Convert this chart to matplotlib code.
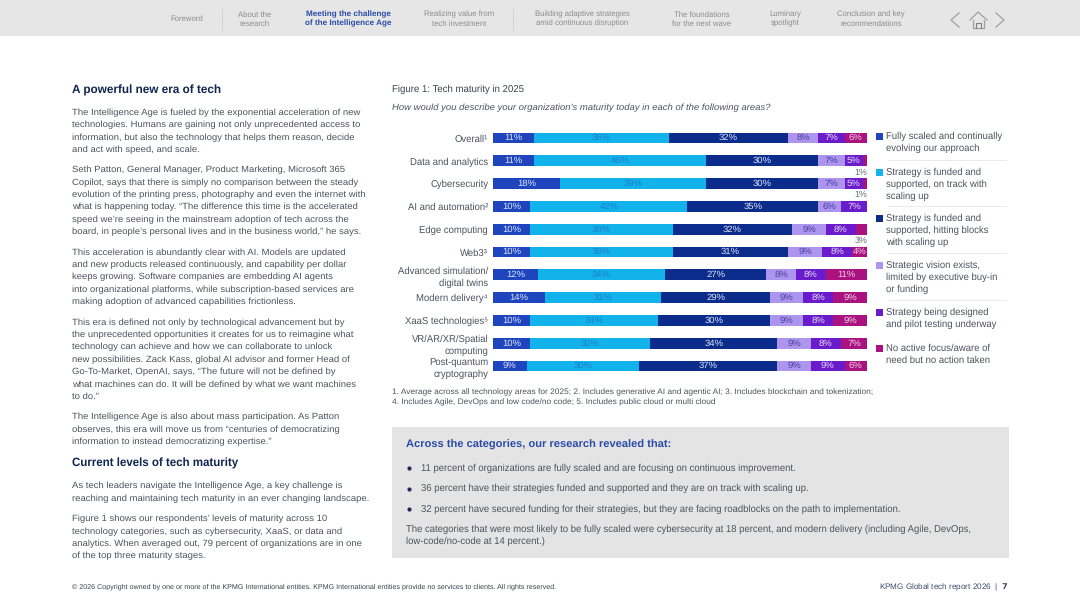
import matplotlib
matplotlib.use("Agg")
import matplotlib.pyplot as plt
from matplotlib.patches import Rectangle
import numpy as np

plt.rcParams['font.family'] = ['Liberation Sans', 'DejaVu Sans']
plt.rcParams['text.hinting'] = 'no_hinting'
plt.rcParams['text.hinting_factor'] = 8

categories = ["Overall¹", "Data and analytics", "Cybersecurity", "AI and automation²",
              "Edge computing", "Web3³", "Advanced simulation/\ndigital twins", "Modern delivery⁴",
              "XaaS technologies⁵", "VR/AR/XR/Spatial\ncomputing", "Post-quantum\ncryptography"]
fully_scaled = [11, 11, 18, 10, 10, 10, 12, 14, 10, 10, 9]
on_track = [36, 46, 39, 42, 38, 38, 34, 31, 34, 32, 30]
hitting_blocks = [32, 30, 30, 35, 32, 31, 27, 29, 30, 34, 37]
vision = [8, 7, 7, 6, 9, 9, 8, 9, 9, 9, 9]
pilot = [7, 5, 5, 7, 8, 8, 8, 8, 8, 8, 9]
no_focus = [6, 1, 1, 0, 3, 4, 11, 9, 9, 7, 6]
series_values = [fully_scaled, on_track, hitting_blocks, vision, pilot, no_focus]
series_names = ["Fully scaled and continually\nevolving our approach",
                "Strategy is funded and\nsupported, on track with\nscaling up",
                "Strategy is funded and\nsupported, hitting blocks\nwith scaling up",
                "Strategic vision exists,\nlimited by executive buy-in\nor funding",
                "Strategy being designed\nand pilot testing underway",
                "No active focus/aware of\nneed but no action taken"]
series_colors = ["#1F45BE", "#12B2EA", "#0C2C8C", "#AD94EC", "#6A1BCB", "#AA1280"]
label_colors = ["#DCE4FA", "#1E7FD0", "#DCE4FA", "#4A3FA8", "#E6DCF8", "#F0D0E6"]

para_left = [
    ["The Intelligence Age is fueled by the exponential acceleration of new",
     "technologies. Humans are gaining not only unprecedented access to",
     "information, but also the technology that helps them reason, decide",
     "and act with speed, and scale."],
    ["Seth Patton, General Manager, Product Marketing, Microsoft 365",
     "Copilot, says that there is simply no comparison between the steady",
     "evolution of the printing press, photography and even the internet with",
     "what is happening today. “The difference this time is the accelerated",
     "speed we’re seeing in the mainstream adoption of tech across the",
     "board, in people’s personal lives and in the business world,” he says."],
    ["This acceleration is abundantly clear with AI. Models are updated",
     "and new products released continuously, and capability per dollar",
     "keeps growing. Software companies are embedding AI agents",
     "into organizational platforms, while subscription-based services are",
     "making adoption of advanced capabilities frictionless."],
    ["This era is defined not only by technological advancement but by",
     "the unprecedented opportunities it creates for us to reimagine what",
     "technology can achieve and how we can collaborate to unlock",
     "new possibilities. Zack Kass, global AI advisor and former Head of",
     "Go-To-Market, OpenAI, says, “The future will not be defined by",
     "what machines can do. It will be defined by what we want machines",
     "to do.”"],
    ["The Intelligence Age is also about mass participation. As Patton",
     "observes, this era will move us from “centuries of democratizing",
     "information to instead democratizing expertise.”"],
    ["As tech leaders navigate the Intelligence Age, a key challenge is",
     "reaching and maintaining tech maturity in an ever changing landscape."],
    ["Figure 1 shows our respondents’ levels of maturity across 10",
     "technology categories, such as cybersecurity, XaaS, or data and",
     "analytics. When averaged out, 79 percent of organizations are in one",
     "of the top three maturity stages."],
]
para_tops = [112.7, 170, 252.5, 322.5, 417, 486, 519]

nav_items = ["Foreword", "About the\nresearch", "Meeting the challenge\nof the Intelligence Age",
             "Realizing value from\ntech investment", "Building adaptive strategies\namid continuous disruption",
             "The foundations\nfor the next wave", "Luminary\nspotlight", "Conclusion and key\nrecommendations"]
nav_x = [187, 255, 348, 459, 582, 702, 785, 871]

bullets = ["11 percent of organizations are fully scaled and are focusing on continuous improvement.",
           "36 percent have their strategies funded and supported and they are on track with scaling up.",
           "32 percent have secured funding for their strategies, but they are facing roadblocks on the path to implementation."]
closing = ["The categories that were most likely to be fully scaled were cybersecurity at 18 percent, and modern delivery (including Agile, DevOps,",
           "low-code/no-code at 14 percent.)"]
footnotes = ["1. Average across all technology areas for 2025; 2. Includes generative AI and agentic AI; 3. Includes blockchain and tokenization;",
             "4. Includes Agile, DevOps and low code/no code; 5. Includes public cloud or multi cloud"]

W, H = 1080, 608
fig = plt.figure(figsize=(W / 100, H / 100), dpi=100, facecolor="white")

page = fig.add_axes([0, 0, 1, 1])
page.set_xlim(0, W)
page.set_ylim(H, 0)
page.axis("off")

BODY = "#4C525E"
NAVY = "#10264F"

def t(x, y, s, **kw):
    kw.setdefault("va", "center")
    kw.setdefault("color", BODY)
    kw.setdefault("fontsize", 6.82)
    return page.text(x, y, s, **kw)

# navigation band
page.add_patch(Rectangle((0, 0), W, 36, fc="#E6E6E6", ec="none"))
for i, (x, s) in enumerate(zip(nav_x, nav_items)):
    if i == 2:
        t(x, 19, s, ha="center", color="#2B4BA8", fontsize=5.9, fontweight="bold", linespacing=1.25)
    else:
        t(x, 19, s, ha="center", color="#8C8C8C", fontsize=5.6, linespacing=1.25)
for x in (222, 513):
    page.plot([x, x], [9, 30], color="#D2D2D2", lw=0.7)
page.plot([959, 951, 959], [13, 20, 27], color="#A0A0A0", lw=0.9)
page.plot([996, 1004, 996], [13, 20, 27], color="#A0A0A0", lw=0.9)
page.plot([970, 978, 987], [20, 12, 20], color="#A0A0A0", lw=0.9)
page.plot([973, 973, 984, 984], [20, 28, 28, 20], color="#A0A0A0", lw=0.9)
page.plot([976, 976, 981, 981], [28, 23, 23, 28], color="#808080", lw=0.8)

# left column
t(72, 90, "A powerful new era of tech", color=NAVY, fontsize=8.45, fontweight="bold")
for top, para in zip(para_tops, para_left):
    for i, line in enumerate(para):
        t(72, top + i * 12.4, line)
t(72, 463, "Current levels of tech maturity", color=NAVY, fontsize=8.3, fontweight="bold")

# right column titles
t(392, 89, "Figure 1: Tech maturity in 2025", color="#3C4350", fontsize=6.95)
t(392, 108, "How would you describe your organization’s maturity today in each of the following areas?",
  fontsize=6.8, style="italic")

# chart
ax = fig.add_axes([493 / W, 1 - 377.4 / H, 374 / W, (377.4 - 126.6) / H])
ax.patch.set_alpha(0)
y = np.arange(len(categories))
left = np.zeros(len(categories))
for vals, col, lab_col in zip(series_values, series_colors, label_colors):
    vals = np.array(vals, dtype=float)
    ax.barh(y, vals, left=left, height=0.48, color=col, edgecolor="none")
    for yi, v, l in zip(y, vals, left):
        if v >= 4:
            ax.text(l + v / 2, yi, f"{v:.0f}%", ha="center", va="center", color=lab_col, fontsize=6.8)
        elif v > 0:
            ax.annotate(f"{v:.0f}%", xy=(100, yi), xytext=(0, -8.3), textcoords="offset points",
                        ha="right", va="center", color="#6A6F7A", fontsize=6.4)
    left += vals
ax.set_xlim(0, 100)
ax.set_ylim(10.5, -0.5)
ax.set_xticks([])
ax.set_yticks(y, categories)
ax.tick_params(axis="y", length=0, pad=3.5, labelsize=6.85, labelcolor=BODY)
for lab in ax.get_yticklabels():
    lab.set_linespacing(1.4)
for s in ax.spines.values():
    s.set_visible(False)

# legend
legend_tops = [136, 172, 218, 265, 312, 348]
sep_y = [160, 206, 253, 300]
for name, col, ly in zip(series_names, series_colors, legend_tops):
    page.add_patch(Rectangle((876, ly - 3.5), 6.5, 7, fc=col, ec="none"))
    t(886, ly - 4.5, name, va="top", fontsize=6.85, linespacing=1.36)
for sy in sep_y:
    page.plot([888, 1006], [sy, sy], color="#E6E6E6", lw=0.6)

# footnotes
for i, line in enumerate(footnotes):
    t(392, 392 + i * 10, line, fontsize=6.0)

# callout box
page.add_patch(Rectangle((392, 427), 617, 131, fc="#E4E4E4", ec="none"))
t(406, 445, "Across the categories, our research revealed that:", color="#2B4BA8", fontsize=8.0, fontweight="bold")
for by, line in zip((468, 488.5, 509), bullets):
    page.plot([408.5], [by], "o", ms=2, color="#1E2A5A")
    t(421, by, line, fontsize=6.88)
for i, line in enumerate(closing):
    t(406, 529 + i * 12.5, line, fontsize=6.85)

# footer
t(72, 587, "© 2026 Copyright owned by one or more of the KPMG International entities. KPMG International entities provide no services to clients. All rights reserved.",
  fontsize=5.15, color="#3A3F4A")
t(1008, 587, "KPMG Global tech report 2026  |  $\\bf{7}$", ha="right", fontsize=5.85, color="#3A4A6A")

fig.savefig("out.png", dpi=100, facecolor="white")
